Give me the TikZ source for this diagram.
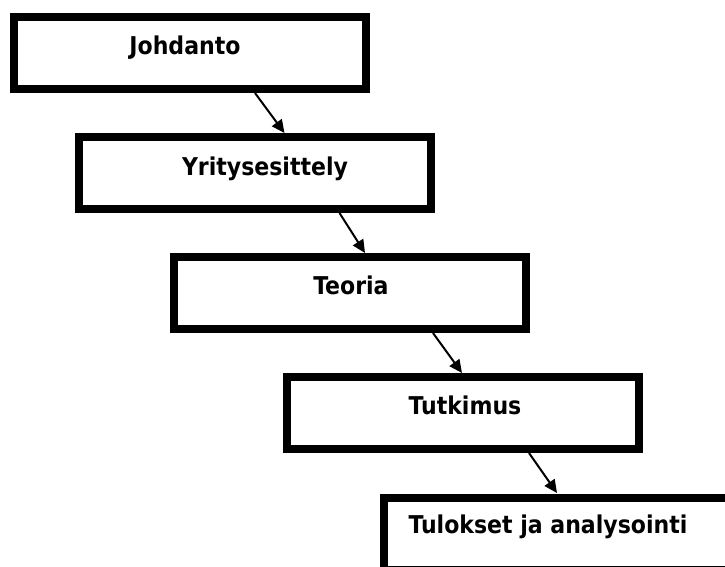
\documentclass[tikz,border=0pt]{standalone}
\usepackage{fontspec}
\newfontfamily\lblfont{DejaVu Sans Condensed}
\usetikzlibrary{arrows.meta,calc}
\tikzset{
  stage/.style={draw=black, line width=8pt, fill=white, inner sep=0pt,
    minimum width=352pt, minimum height=72pt},
  stagetext/.style={anchor=base, inner sep=0pt, font=\lblfont\bfseries\fontsize{24.5}{28}\selectfont},
  flow/.style={line width=2pt, -{Triangle[length=13pt,width=12pt]}}
}
\begin{document}
\begin{tikzpicture}[x=1pt,y=-1pt]
  \useasboundingbox (0,0) rectangle (725,567);
  \clip (0,0) rectangle (725,567);
  \fill[white] (0,0) rectangle (725,567);

  % the five stages, stepping down to the right
  \node[stage] (b1) at (190,53) {};
  \node[stage] (b2) at (254.5,173) {};
  \node[stage] (b3) at (350,293) {};
  \node[stage] (b4) at (463,413) {};
  \node[stage] (b5) at (560,534) {};

  \node[stagetext] (t1) at (185,54.5) {Johdanto};
  \node[stagetext] (t2) at (265,175) {Yritysesittely};
  \node[stagetext] (t3) at (351,294) {Teoria};
  \node[stagetext] (t4) at (465,414) {Tutkimus};
  \node[stagetext] (t5) at (548,533) {Tulokset ja analysointi};

  % arrows from each stage to the next
  \draw[flow] ($(b1.south west)+(245,0)$) -- ($(b2.north west)+(210,0)$);
  \draw[flow] ($(b2.south west)+(265,0)$) -- ($(b3.north west)+(195,0)$);
  \draw[flow] ($(b3.south west)+(263,0)$) -- ($(b4.north west)+(179,0)$);
  \draw[flow] ($(b4.south west)+(246,0)$) -- ($(b5.north west)+(177,-1)$);
\end{tikzpicture}
\end{document}
